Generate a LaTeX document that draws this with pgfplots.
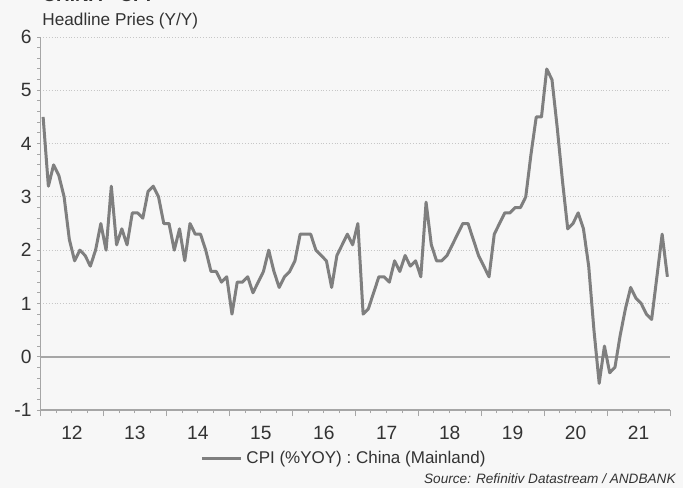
\documentclass[border=0pt]{standalone}
\usepackage{fontspec}
\setmainfont{Liberation Sans}
\usepackage{pgfplots}
\pgfplotsset{compat=1.18}
\definecolor{bg}{HTML}{F7F7F7}
\definecolor{ln}{HTML}{7F7F7F}
\definecolor{axc}{HTML}{A6A6A6}
\definecolor{txt}{HTML}{333333}
\begin{document}
\begin{tikzpicture}[x=0.5pt,y=0.5pt]
\fill[bg] (-40.5,-78) rectangle (642.5,410);
\begin{axis}[
  at={(0,0)}, anchor=south west,
  scale only axis, width=314.75pt, height=186.5pt,
  xmin=0, xmax=120, ymin=-1, ymax=6,
  axis x line*=bottom, axis y line*=left,
  axis line style={axc, line width=0.6pt},
  every tick/.style={axc, line width=0.5pt},
  tick align=outside,
  major tick length=3pt, minor tick length=1.6pt,
  ytick={-1,0,...,6},
  major y tick style={draw=none},
  minor ytick={-1,-0.8,...,6},
  xtick={0,12,...,120},
  xticklabels={12,13,14,15,16,17,18,19,20,21},
  x tick label as interval,
  minor xtick={0,3,...,120},
  ymajorgrids,
  grid style={densely dotted, black!22, line width=0.5pt},
  extra y ticks={0},
  extra y tick labels={},
  extra y tick style={grid=major, major grid style={solid, axc, line width=0.8pt}},
  /pgf/number format/assume math mode=true,
  tick label style={font=\fontsize{9.6}{11}\selectfont, text=txt},
  yticklabel style={xshift=2pt},
  xticklabel style={yshift=-1.5pt},
  legend style={at={(0.4837,-0.131)}, anchor=center, draw=none, fill=none,
    font=\fontsize{8.5}{10}\selectfont, text=txt, inner sep=0pt,
    /tikz/every even column/.append style={column sep=0pt}},
  legend image code/.code={\draw[#1] (0pt,0pt) -- (19.5pt,0pt);},
  clip=false,
]
\addplot[ln, line width=1.5pt, line join=round] table[x expr=\coordindex+0.5, y index=0, header=false] {
4.5
3.2
3.6
3.4
3.0
2.2
1.8
2.0
1.9
1.7
2.0
2.5
2.0
3.2
2.1
2.4
2.1
2.7
2.7
2.6
3.1
3.2
3.0
2.5
2.5
2.0
2.4
1.8
2.5
2.3
2.3
2.0
1.6
1.6
1.4
1.5
0.8
1.4
1.4
1.5
1.2
1.4
1.6
2.0
1.6
1.3
1.5
1.6
1.8
2.3
2.3
2.3
2.0
1.9
1.8
1.3
1.9
2.1
2.3
2.1
2.5
0.8
0.9
1.2
1.5
1.5
1.4
1.8
1.6
1.9
1.7
1.8
1.5
2.9
2.1
1.8
1.8
1.9
2.1
2.3
2.5
2.5
2.2
1.9
1.7
1.5
2.3
2.5
2.7
2.7
2.8
2.8
3.0
3.8
4.5
4.5
5.4
5.2
4.3
3.3
2.4
2.5
2.7
2.4
1.7
0.5
-0.5
0.2
-0.3
-0.2
0.4
0.9
1.3
1.1
1.0
0.8
0.7
1.5
2.3
1.5
};
\addlegendentry{CPI (\%YOY) : China (Mainland)}
\end{axis}
\node[anchor=base west, inner sep=0pt, font=\fontsize{9.5}{11}\selectfont\bfseries, text=txt] at (1.5,408) {CHINA - CPI};
\node[anchor=base west, inner sep=0pt, font=\fontsize{8.6}{10}\selectfont, text=txt] at (1.5,384) {Headline Pries (Y/Y)};
\node[anchor=base east, inner sep=0pt, font=\fontsize{6.8}{8}\selectfont\itshape, text=txt] at (635.5,-73) {Source: Refinitiv Datastream / ANDBANK};
\pgfresetboundingbox
\useasboundingbox (-40.5,-78) rectangle (642.5,410);
\end{tikzpicture}
\end{document}
